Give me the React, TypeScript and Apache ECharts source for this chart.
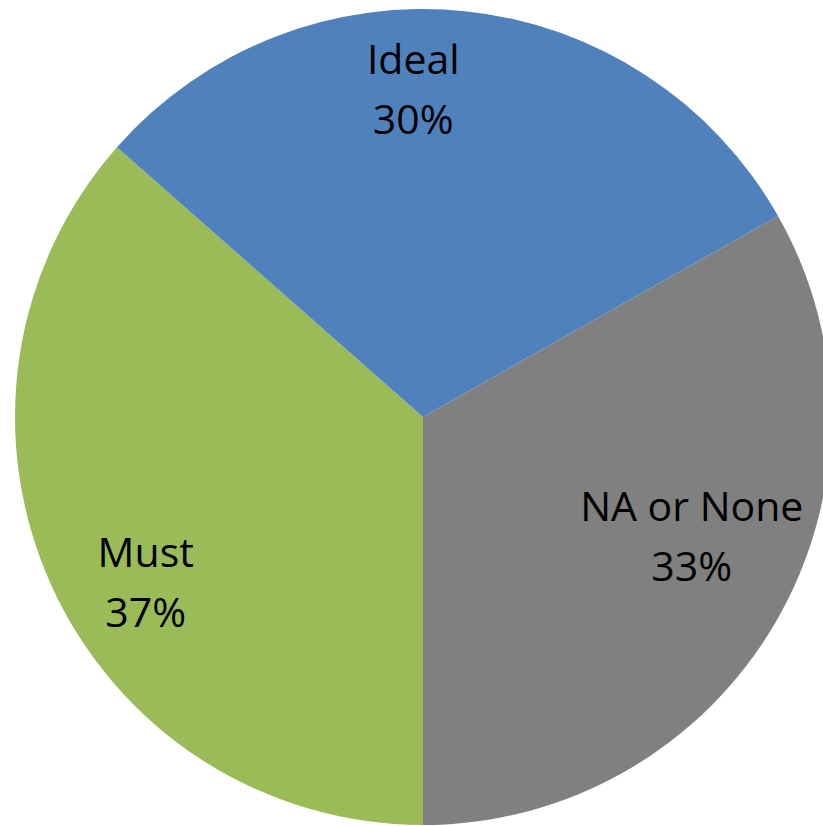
import React, { useEffect, useRef } from "react";
import * as echarts from "echarts";

const categories = ["Must", "Ideal", "NA or None"];
const values = [36.5, 30.3, 33.2];
const colors = ["#9BBB59", "#4F81BD", "#808080"];
// small per-slice nudges of the library-placed labels (style only)
const labelNudges = [
  [-5, 0],
  [-5, -11],
  [-23, -8],
];

export default function App() {
  const ref = useRef<HTMLDivElement>(null);
  useEffect(() => {
    if (!ref.current) return;
    const chart = echarts.init(ref.current, null, { renderer: "svg" });
    const data = categories.map((name, i) => ({
      name,
      value: values[i],
      itemStyle: { color: colors[i] },
    }));
    chart.setOption({
      animation: false,
      backgroundColor: "#ffffff",
      series: [
        {
          type: "pie",
          center: [423, 417],
          radius: [0, 408],
          startAngle: 270,
          clockwise: true,
          silent: true,
          label: { show: false },
          labelLine: { show: false },
          itemStyle: { borderWidth: 0 },
          data,
        },
        {
          type: "pie",
          center: [423, 417],
          radius: [222, 408],
          startAngle: 276.8,
          clockwise: true,
          silent: true,
          percentPrecision: 0,
          itemStyle: { color: "rgba(0,0,0,0)", borderWidth: 0 },
          labelLine: { show: false },
          label: {
            show: true,
            position: "inside",
            formatter: "{b}\n{d}%",
            fontFamily: "Open Sans",
            fontSize: 41,
            lineHeight: 60,
            color: "#000000",
            align: "center",
            verticalAlign: "middle",
          },
          data: categories.map((name, i) => ({
            name,
            value: values[i],
            label: { offset: labelNudges[i] },
          })),
        },
      ],
    });
    return () => chart.dispose();
  }, []);
  return (
    <div
      ref={ref}
      style={{ position: "fixed", left: 0, top: 0, width: 823, height: 826 }}
    />
  );
}
